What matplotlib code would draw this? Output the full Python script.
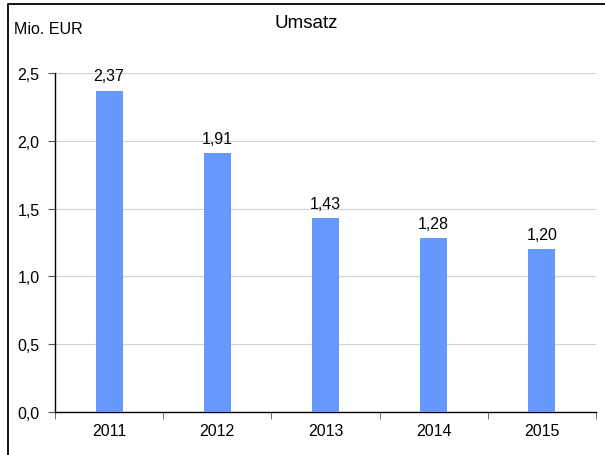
import matplotlib
matplotlib.use("Agg")
import matplotlib.pyplot as plt
from matplotlib.lines import Line2D

years = ["2011", "2012", "2013", "2014", "2015"]
umsatz = [2.37, 1.91, 1.43, 1.28, 1.20]
yticks = [0.0, 0.5, 1.0, 1.5, 2.0, 2.5]

plt.rcParams['font.family'] = ['Liberation Sans', 'DejaVu Sans']

W, H = 605, 456
fig = plt.figure(figsize=(W / 100, H / 100), dpi=100)
ax = fig.add_axes([55 / W, 43 / H, (596 - 55) / W, (413 - 74) / H])

x = list(range(len(years)))
bars = ax.bar(x, umsatz, width=0.25, color="#6699FF", zorder=3)
for xi, v in zip(x, umsatz):
    ax.text(xi, v + 0.055, f"{v:.2f}".replace(".", ","), ha="center", va="bottom",
            fontsize=11.5, zorder=4)

ax.set_xlim(-0.5, len(years) - 0.5)
ax.set_ylim(0, 2.5)
ax.set_yticks(yticks)
ax.set_yticklabels([f"{t:.1f}".replace(".", ",") for t in yticks], fontsize=11.5)
ax.set_xticks(x)
ax.set_xticklabels(years, fontsize=11.5)
ax.tick_params(axis="x", length=0, pad=8)
ax.set_xticks([i - 0.5 for i in range(len(years) + 1)], minor=True)
ax.tick_params(axis="x", which="minor", length=5, direction="out", color="#555555")
ax.tick_params(axis="y", length=5, direction="out", color="#555555", pad=6)
ax.yaxis.grid(True, color="#d0d0d0", linewidth=0.8, zorder=0)
for s in ["top", "right"]:
    ax.spines[s].set_visible(False)
ax.spines["left"].set_linewidth(1.0)
ax.spines["bottom"].set_linewidth(1.0)

fig.text(306 / W, 1 - 23 / H, "Umsatz", ha="center", va="center", fontsize=13.5)
fig.text(14 / W, 1 - 30 / H, "Mio. EUR", ha="left", va="center", fontsize=11.5)

# outer frame (left and top)
fig.add_artist(Line2D([8 / W, 8 / W, 1.0], [0.0, 1 - 5 / H, 1 - 5 / H],
                      transform=fig.transFigure, color="black", linewidth=1.3))

fig.savefig("out.png", dpi=100)
